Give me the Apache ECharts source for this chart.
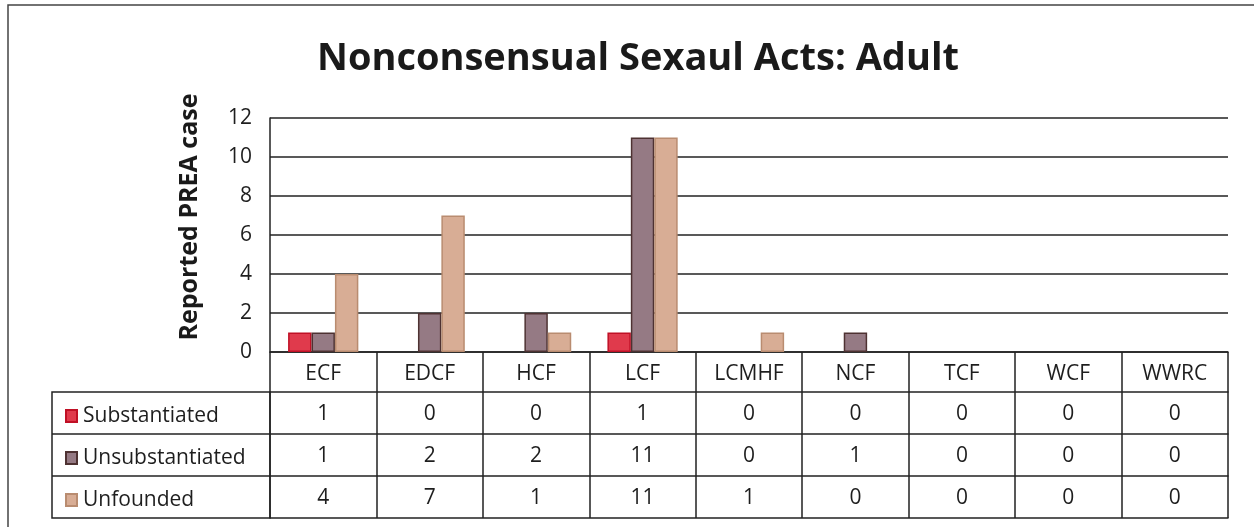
<!DOCTYPE html>
<html><head><meta charset="utf-8">
<script src="https://cdn.jsdelivr.net/npm/echarts@6/dist/echarts.min.js"></script>
<style>html,body{margin:0;padding:0;background:#fff}#c{width:1254px;height:527px}</style>
</head><body><div id="c"></div>
<script>
const TITLE = 'Nonconsensual Sexaul Acts: Adult';
const Y_NAME = 'Reported PREA case';
const CATEGORIES = ['ECF','EDCF','HCF','LCF','LCMHF','NCF','TCF','WCF','WWRC'];
const SERIES_NAMES = ['Substantiated','Unsubstantiated','Unfounded'];
const SUBSTANTIATED = [1,0,0,1,0,0,0,0,0];
const UNSUBSTANTIATED = [1,2,2,11,0,1,0,0,0];
const UNFOUNDED = [4,7,1,11,1,0,0,0,0];
const Y_MIN = 0, Y_MAX = 12, Y_STEP = 2;

const VALUES = [SUBSTANTIATED, UNSUBSTANTIATED, UNFOUNDED];
const COLORS = ['#e03a4c','#957a84','#d8ad95'];
const BORDERS = ['#c01025','#4e3232','#b98c70'];
const FONT = 'Open Sans';
const GL = 270, GR = 26, GT = 118, GB = 175;
const ROW_H = 42;
const TXT = '#1e1e1e';
const FS = 21;

const chart = echarts.init(document.getElementById('c'));
const xAxes = [{
  type:'category', data:CATEGORIES, position:'bottom',
  axisLine:{show:true,lineStyle:{color:'#222',width:1.5}},
  axisTick:{show:true,length:ROW_H*4-2,lineStyle:{color:'#222',width:1.5}},
  axisLabel:{fontFamily:FONT,fontSize:FS,color:TXT,margin:12}
}];
VALUES.forEach((vals,k)=>{
  xAxes.push({
    type:'category', data:CATEGORIES, position:'bottom', offset:40+ROW_H*k,
    axisLine:{show:true,lineStyle:{color:'#222',width:1.5}},
    axisTick:{show:false},
    axisLabel:{fontFamily:FONT,fontSize:FS,color:TXT,margin:12,formatter:(v,i)=>String(vals[i])}
  });
});
xAxes.push({
  type:'category', data:CATEGORIES, position:'bottom', offset:40+ROW_H*3,
  axisLine:{show:true,lineStyle:{color:'#222',width:1.5}},
  axisTick:{show:false}, axisLabel:{show:false}
});

const tableTop = 527-GB+40;
const graphics = [
  {type:'rect',shape:{x:8,y:5,width:1260,height:540},style:{fill:'none',stroke:'#444',lineWidth:1.5},silent:true},
  {type:'rect',shape:{x:52,y:tableTop,width:GL-52,height:ROW_H*3},style:{fill:'none',stroke:'#222',lineWidth:1.5},silent:true},
  {type:'line',shape:{x1:52,y1:tableTop+ROW_H,x2:GL,y2:tableTop+ROW_H},style:{stroke:'#222',lineWidth:1.5},silent:true},
  {type:'line',shape:{x1:52,y1:tableTop+ROW_H*2,x2:GL,y2:tableTop+ROW_H*2},style:{stroke:'#222',lineWidth:1.5},silent:true}
];

chart.setOption({
  animation:false,
  backgroundColor:'#fff',
  title:{text:TITLE,left:633,textAlign:'center',top:35,
    textStyle:{fontFamily:FONT,fontSize:38,fontWeight:'bold',color:'#1a1a1a'}},
  legend:{orient:'vertical',left:60,top:tableTop+8,itemGap:ROW_H-22,itemWidth:11,itemHeight:12,
    icon:'rect',data:SERIES_NAMES,
    textStyle:{fontFamily:FONT,fontSize:FS,color:TXT,padding:[0,0,0,1],lineHeight:22}},
  grid:{left:GL,right:GR,top:GT,bottom:GB,containLabel:false},
  xAxis:xAxes,
  yAxis:{type:'value',min:Y_MIN,max:Y_MAX,interval:Y_STEP,
    name:Y_NAME,nameLocation:'middle',nameRotate:90,nameGap:68,
    nameTextStyle:{fontFamily:FONT,fontSize:25,fontWeight:'bold',color:'#1a1a1a',padding:[0,0,0,36]},
    axisLine:{show:true,lineStyle:{color:'#222',width:1.5}},
    axisTick:{show:false},
    axisLabel:{fontFamily:FONT,fontSize:FS,color:TXT,margin:18},
    splitLine:{show:true,lineStyle:{color:'#222',width:1.5}}},
  series:VALUES.map((vals,k)=>({
    name:SERIES_NAMES[k],type:'bar',
    data:vals.map(v=>v===0?{value:v,itemStyle:{borderWidth:0,opacity:0}}:v),
    xAxisIndex:0,
    barGap:'0%',barCategoryGap:'34%',
    itemStyle:{color:COLORS[k],borderColor:BORDERS[k],borderWidth:1.5}
  })),
  graphic:graphics
});
</script></body></html>
